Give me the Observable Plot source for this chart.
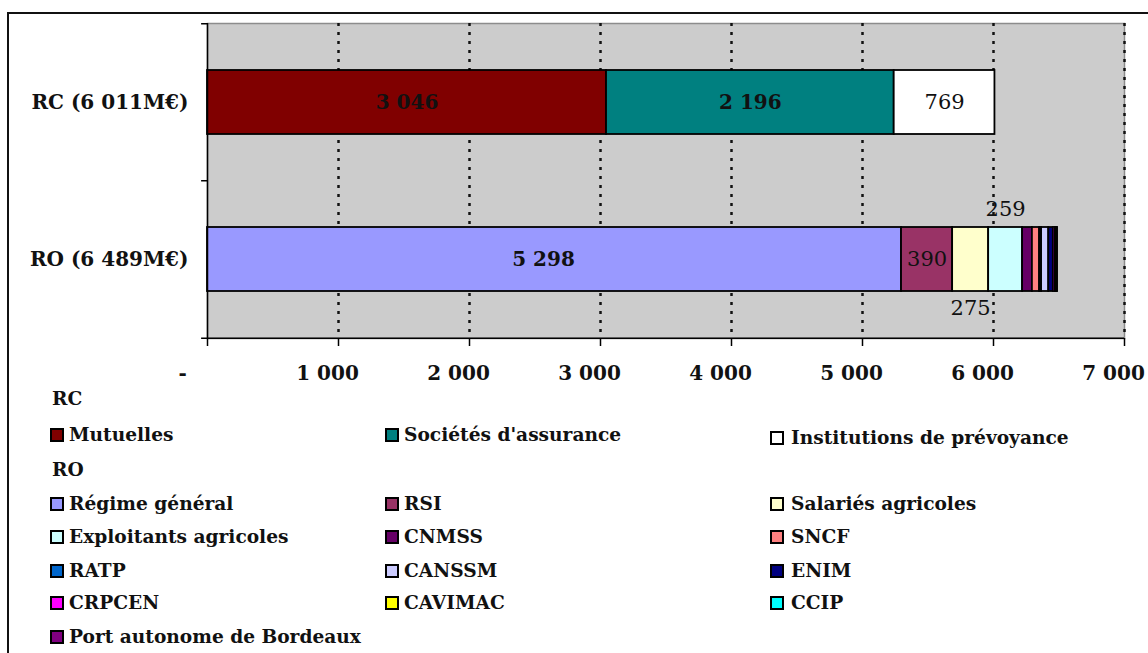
<!DOCTYPE html>
<html><head><meta charset="utf-8">
<script src="https://cdn.jsdelivr.net/npm/d3@7"></script>
<script src="https://cdn.jsdelivr.net/npm/@observablehq/plot@0.6"></script>
<style>
html,body{margin:0;padding:0;background:#fff;width:1148px;height:653px;overflow:hidden;position:relative;}
#frame{position:absolute;left:7px;top:12px;width:1160px;height:660px;border:2px solid #111;box-sizing:border-box;}
#chart{position:absolute;left:0;top:0;}
.lg{position:absolute;font-family:"DejaVu Serif",serif;font-weight:bold;font-size:18.6px;color:#111;white-space:nowrap;line-height:20px;}
.sw{position:absolute;width:10px;height:10px;border:2px solid #000;}
</style></head>
<body>
<div id="frame"></div>
<div id="chart"></div>
<div id="legend"></div>
<script>
const categories = ["RC (6 011M€)", "RO (6 489M€)"];
const rcSeries = ["Mutuelles", "Sociétés d'assurance", "Institutions de prévoyance"];
const rcValues = [3046, 2196, 769];
const rcColors = ["#800000", "#008080", "#ffffff"];
const roSeries = ["Régime général", "RSI", "Salariés agricoles", "Exploitants agricoles", "CNMSS", "SNCF", "RATP", "CANSSM", "ENIM", "CRPCEN", "CAVIMAC", "CCIP", "Port autonome de Bordeaux"];
const roValues = [5298, 390, 275, 259, 75, 55, 15, 55, 35, 15, 8, 5, 4];
const roColors = ["#9999ff", "#993366", "#ffffcc", "#ccffff", "#660066", "#ff8080", "#0066cc", "#ccccff", "#000080", "#ff00ff", "#ffff00", "#00ffff", "#800080"];
const xTicks = [0, 1000, 2000, 3000, 4000, 5000, 6000, 7000];

const data = [
  ...rcSeries.map((s, i) => ({cat: categories[0], series: s, value: rcValues[i], color: rcColors[i]})),
  ...roSeries.map((s, i) => ({cat: categories[1], series: s, value: roValues[i], color: roColors[i]}))
];
const fr = d3.formatLocale({thousands: "\u00a0", grouping: [3], decimal: ","});
const fmt = fr.format(",d");

const insideBold = new Set(["Mutuelles", "Sociétés d'assurance"]);
const insideBoldLeft = new Set(["Régime général"]);
const insideReg = new Set(["Institutions de prévoyance", "RSI"]);
const above = new Set(["Exploitants agricoles"]);
const below = new Set(["Salariés agricoles"]);
const lab = set => d => set.has(d.series) ? fmt(d.value) : "";

const W = 1148, H = 390, mT = 23, mB = 52;
const halfStep = (H - mT - mB) / categories.length / 2;
const tickLen = 45;

const chart = Plot.plot({
  width: W, height: H,
  marginLeft: 207, marginRight: 24, marginTop: mT, marginBottom: mB,
  style: {fontFamily: "DejaVu Serif, serif", fontWeight: "bold", fontSize: "20px", color: "#111", background: "transparent", overflow: "visible"},
  x: {domain: [0, 7000], label: null},
  y: {domain: categories, paddingInner: 0.594, paddingOuter: 0.297, label: null},
  color: {type: "identity"},
  marks: [
    Plot.frame({fill: "#cccccc", stroke: "#8c8c8c", strokeWidth: 1.5}),
    Plot.ruleX(xTicks.slice(1), {stroke: "#111", strokeWidth: 2.5, strokeDasharray: "3,6"}),
    Plot.barX(data, {x: "value", y: "cat", fill: "color", stroke: "#000", strokeWidth: 1.8}),
    Plot.text(data, Plot.stackX({x: "value", y: "cat", text: lab(insideBold), fill: "#111", fontSize: 20})),
    Plot.text(data, Plot.stackX({x: "value", y: "cat", text: lab(insideBoldLeft), fill: "#111", fontSize: 20, dx: -11})),
    Plot.text(data, Plot.stackX({x: "value", y: "cat", text: lab(insideReg), fill: "#111", fontSize: 21, fontWeight: "normal"})),
    Plot.text(data, Plot.stackX({x: "value", y: "cat", text: lab(above), fill: "#111", fontSize: 21, fontWeight: "normal", dy: -50})),
    Plot.text(data, Plot.stackX({x: "value", y: "cat", text: lab(below), fill: "#111", fontSize: 21, fontWeight: "normal", dy: 49})),
    Plot.axisX(xTicks, {tickSize: 8, tickFormat: () => "", stroke: "#000", strokeWidth: 1.5}),
    Plot.axisX(xTicks, {tickSize: 0, tickPadding: 27, dx: -11, tickFormat: d => d === 0 ? "-" + "\u00a0".repeat(4) : fmt(d), fontSize: 20}),
    Plot.axisY(categories, {tickSize: 0, tickPadding: 19, fontSize: 20}),
    Plot.ruleX([0], {stroke: "#000", strokeWidth: 1.5}),
    Plot.ruleY([categories[1]], {x1: 0, x2: 7000, dy: halfStep, stroke: "#000", strokeWidth: 1.5}),
    Plot.ruleY([categories[0]], {x1: -tickLen, x2: 0, dy: -halfStep, stroke: "#000", strokeWidth: 1.5}),
    Plot.ruleY([categories[1]], {x1: -tickLen, x2: 0, dy: -halfStep, stroke: "#000", strokeWidth: 1.5}),
    Plot.ruleY([categories[1]], {x1: -tickLen, x2: 0, dy: halfStep, stroke: "#000", strokeWidth: 1.5})
  ]
});
document.getElementById("chart").appendChild(chart);

// Legend
const legend = document.getElementById("legend");
const colSw = [50, 385, 770];
const colTx = [69, 404, 791];
function addText(txt, x, yc) {
  const el = document.createElement("div");
  el.className = "lg"; el.textContent = txt;
  el.style.left = x + "px"; el.style.top = (yc - 10) + "px";
  legend.appendChild(el);
}
function addItem(txt, color, col, yc) {
  const sw = document.createElement("div");
  sw.className = "sw"; sw.style.background = color;
  sw.style.left = colSw[col] + "px"; sw.style.top = (yc - 7) + "px";
  legend.appendChild(sw);
  addText(txt, colTx[col], yc);
}
addText("RC", 52, 399);
const rcY = [435, 435, 438];
rcSeries.forEach((s, i) => addItem(s, rcColors[i], i, rcY[i]));
addText("RO", 52, 470);
const roRowY = [504, 537, 571, 603, 637];
roSeries.forEach((s, i) => addItem(s, roColors[i], i % 3, roRowY[Math.floor(i / 3)]));
</script>
</body></html>
